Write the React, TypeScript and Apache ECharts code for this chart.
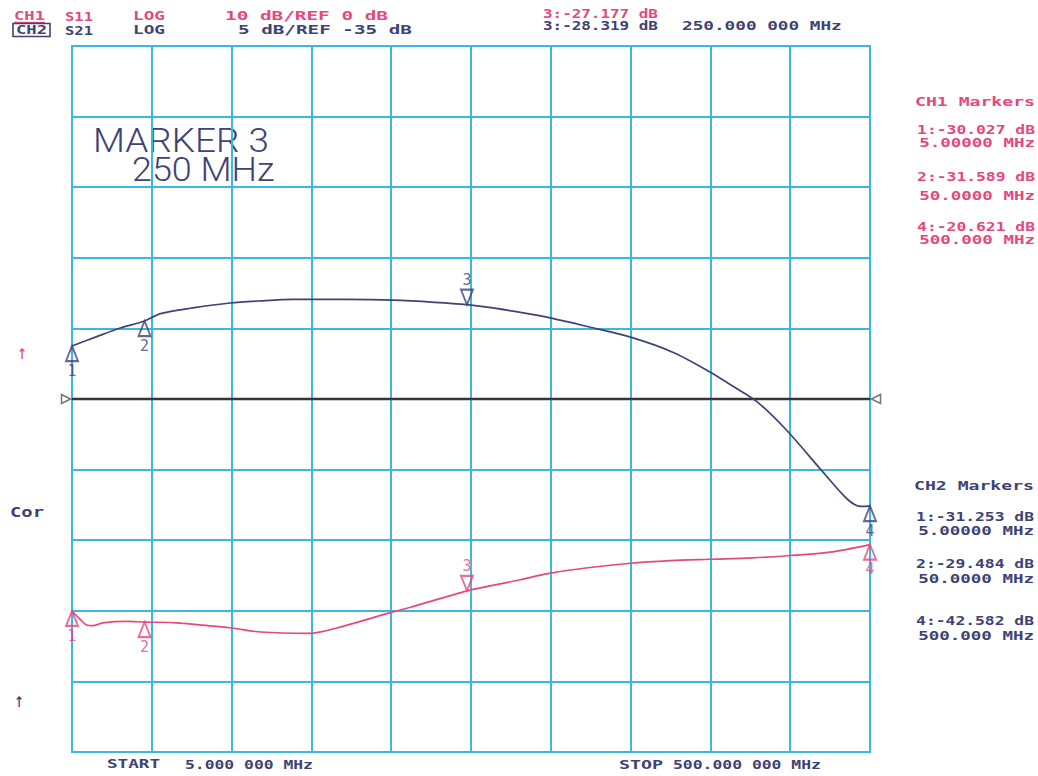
import React, { useEffect, useRef } from 'react';
import * as echarts from 'echarts';

// ---------- data ----------
const freqCH1 = [5, 10, 14, 18, 24, 39, 50, 70, 84, 103, 122, 152, 173, 202, 215, 250, 266, 283, 301, 325, 350, 376, 400, 427, 449, 475, 500];
const s11dB = [-30.03, -31.2, -32.0, -32.1, -31.7, -31.5, -31.59, -31.7, -32.0, -32.4, -33.0, -33.2, -32.2, -30.3, -29.5, -27.18, -26.4, -25.6, -24.7, -23.9, -23.3, -22.9, -22.7, -22.5, -22.2, -21.7, -20.62];

const freqCH2 = [5, 20, 35, 50, 60, 80, 103, 122, 142, 175, 204, 230, 250, 266, 295, 326, 351, 378, 401, 415, 430, 449, 471, 486, 494, 500];
const s21dB = [-31.25, -30.6, -29.97, -29.48, -28.95, -28.55, -28.2, -28.05, -27.95, -27.95, -28.0, -28.15, -28.32, -28.55, -29.1, -29.9, -30.6, -31.7, -33.1, -34.1, -35.2, -37.3, -40.2, -42.1, -42.6, -42.58];

const markerFreqs = [5, 50, 250, 500];
const markerIds = ['1', '2', '3', '4'];
const ch1Markers = [-30.027, -31.589, -27.177, -20.621];
const ch2Markers = [-31.253, -29.484, -28.319, -42.582];
const activeMarker = '3';

const refFreqs = [5, 500];
const ch1Ref = 0; // dB
const ch1Scale = 10; // dB/div
const ch2Ref = -35;
const ch2Scale = 5;

const headerRow1 = ['CH1', 'S11', 'LOG', '10 dB/REF 0 dB', '3:-27.177 dB'];
const headerRow2 = ['CH2', 'S21', 'LOG', '5 dB/REF -35 dB', '3:-28.319 dB', '250.000 000 MHz'];
const ch1MarkerLines = ['CH1 Markers', '1:-30.027 dB', '5.00000 MHz', '2:-31.589 dB', '50.0000 MHz', '4:-20.621 dB', '500.000 MHz'];
const ch2MarkerLines = ['CH2 Markers', '1:-31.253 dB', '5.00000 MHz', '2:-29.484 dB', '50.0000 MHz', '4:-42.582 dB', '500.000 MHz'];
const footer = ['START', '5.000 000 MHz', 'STOP', '500.000 000 MHz'];
const bigLabel = ['MARKER 3', '250 MHz'];

// ---------- styles ----------
const PINK = '#e4487c';
const NAVY = '#3e4274';
const GRIDC = '#3ab7e3';
const MONO = '"DejaVu Sans Mono", monospace';

function txt(text: string, x: number, y: number, w: number, color: string, fs = 13, align = 'left', family = MONO, weight: any = 'bold', cw = 0.602) {
  const scaleX = w / (text.length * cw * fs);
  return {
    type: 'text',
    x,
    y,
    scaleX,
    silent: true,
    style: {
      text,
      fill: color,
      fontSize: fs,
      fontFamily: family,
      fontWeight: weight,
      align,
      textAlign: align,
      verticalAlign: 'middle',
      textVerticalAlign: 'middle',
    },
  };
}

function markerData(values: number[]) {
  return markerFreqs.map((f, i) => {
    const active = markerIds[i] === activeMarker;
    return {
      value: [f, values[i]],
      name: markerIds[i],
      symbolRotate: active ? 180 : 0,
      symbolOffset: active ? [0, -7.5] : [0, 7.5],
      label: { position: active ? 'top' : 'bottom', distance: 1 },
    };
  });
}

export default function App() {
  const ref = useRef<HTMLDivElement>(null);
  useEffect(() => {
    if (!ref.current) return;
    const chart = echarts.init(ref.current, null, { renderer: 'svg' });

    const graphic: any[] = [];
    // header row 1 (CH1, pink)
    const r1x = [14, 65, 133, 225, 543];
    const r1w = [31, 28, 32, 163, 115];
    const r1y = [16, 16, 16, 16, 14];
    headerRow1.forEach((t, i) => graphic.push(txt(t, r1x[i], r1y[i], r1w[i], PINK, 13)));
    graphic.push({ type: 'line', silent: true, shape: { x1: 14, y1: 22.5, x2: 45, y2: 22.5 }, style: { stroke: PINK, lineWidth: 1.4 } });
    // header row 2 (CH2, navy)
    const r2x = [16, 65, 133, 238, 543, 682];
    const r2w = [31, 28, 32, 174, 115, 160];
    const r2y = [30, 30, 30, 30, 26, 26];
    headerRow2.forEach((t, i) => graphic.push(txt(t, r2x[i], r2y[i], r2w[i], NAVY, 13)));
    graphic.push({ type: 'rect', silent: true, shape: { x: 13, y: 23.5, width: 37, height: 13 }, style: { fill: 'none', stroke: NAVY, lineWidth: 1.6 } });

    // right-side marker tables
    const ch1y = [101, 129, 143, 176, 196, 226, 240];
    const ch1w = [120, 118, 116, 118, 116, 118, 116];
    ch1MarkerLines.forEach((t, i) => graphic.push(txt(t, 1035, ch1y[i], ch1w[i], PINK, 13, 'right')));
    const ch2y = [485, 516, 531, 563, 579, 620, 636];
    const ch2w = [120, 118, 116, 118, 116, 118, 116];
    ch2MarkerLines.forEach((t, i) => graphic.push(txt(t, 1034, ch2y[i], ch2w[i], NAVY, 13, 'right')));

    // footer
    const fx = [107, 185, 619, 673];
    const fw = [53, 128, 44, 148];
    footer.forEach((t, i) => graphic.push(txt(t, fx[i], 764, fw[i], NAVY, 13)));

    // big marker annotation (thin plotter-style lettering)
    graphic.push(txt(bigLabel[0], 93, 140, 177, NAVY, 34, 'left', 'Roboto', 300, 0.6));
    graphic.push(txt(bigLabel[1], 132, 170, 151, NAVY, 34, 'left', 'Roboto', 300, 0.6));

    // left side annotations
    graphic.push(txt('\u2191', 17, 352, 10, PINK, 20, 'left', MONO, 'normal'));
    graphic.push(txt('\u2191', 14, 700, 10, NAVY, 20, 'left', MONO, 'normal'));
    graphic.push(txt('Cor', 10, 512, 34, NAVY, 14));

    const option: any = {
      animation: false,
      backgroundColor: '#ffffff',
      grid: { left: 72, top: 46, width: 798, height: 706, show: true, borderColor: GRIDC, borderWidth: 2, containLabel: false },
      xAxis: [
        { type: 'value', min: 5, max: 500, show: false },
        {
          type: 'value', min: 0, max: 10, interval: 1, position: 'bottom',
          axisLine: { show: false }, axisTick: { show: false }, axisLabel: { show: false },
          splitLine: { show: true, lineStyle: { color: GRIDC, width: 2 } },
        },
      ],
      yAxis: [
        {
          type: 'value', min: ch1Ref - 5 * ch1Scale, max: ch1Ref + 5 * ch1Scale, interval: ch1Scale,
          axisLine: { show: false }, axisTick: { show: false }, axisLabel: { show: false },
          splitLine: { show: true, lineStyle: { color: GRIDC, width: 2 } },
        },
        { type: 'value', min: ch2Ref - 5 * ch2Scale, max: ch2Ref + 5 * ch2Scale, interval: ch2Scale, show: false },
      ],
      series: [
        {
          type: 'line', name: 'REF', xAxisIndex: 0, yAxisIndex: 0, symbol: 'none',
          data: refFreqs.map((f) => [f, ch1Ref]),
          lineStyle: { color: '#3a3438', width: 2.5 }, z: 3,
        },
        {
          type: 'scatter', name: 'REF ends', xAxisIndex: 0, yAxisIndex: 0, clip: false,
          symbol: 'triangle', symbolSize: [9, 9],
          itemStyle: { color: '#ffffff', borderColor: '#555055', borderWidth: 1.5 },
          data: [
            { value: [refFreqs[0], ch1Ref], symbolRotate: -90, symbolOffset: [-6, 0] },
            { value: [refFreqs[1], ch1Ref], symbolRotate: 90, symbolOffset: [6, 0] },
          ], z: 4,
        },
        {
          type: 'line', name: 'CH1 S11', xAxisIndex: 0, yAxisIndex: 0, symbol: 'none', smooth: 0.3,
          data: freqCH1.map((f, i) => [f, s11dB[i]]),
          lineStyle: { color: PINK, width: 1.7 }, z: 5,
        },
        {
          type: 'line', name: 'CH2 S21', xAxisIndex: 0, yAxisIndex: 1, symbol: 'none', smooth: 0.3,
          data: freqCH2.map((f, i) => [f, s21dB[i]]),
          lineStyle: { color: NAVY, width: 1.7 }, z: 5,
        },
        {
          type: 'scatter', name: 'CH1 markers', xAxisIndex: 0, yAxisIndex: 0, clip: false,
          symbol: 'triangle', symbolSize: [12, 15],
          itemStyle: { color: 'rgba(255,255,255,0)', borderColor: PINK, borderWidth: 2 },
          label: { show: true, formatter: '{b}', color: PINK, fontSize: 15, fontFamily: MONO },
          data: markerData(ch1Markers), z: 6,
        },
        {
          type: 'scatter', name: 'CH2 markers', xAxisIndex: 0, yAxisIndex: 1, clip: false,
          symbol: 'triangle', symbolSize: [12, 15],
          itemStyle: { color: 'rgba(255,255,255,0)', borderColor: NAVY, borderWidth: 2 },
          label: { show: true, formatter: '{b}', color: NAVY, fontSize: 15, fontFamily: MONO },
          data: markerData(ch2Markers), z: 6,
        },
      ],
      graphic,
    };
    chart.setOption(option);
    return () => chart.dispose();
  }, []);

  return (
    <div
      ref={ref}
      style={{ position: 'fixed', left: 0, top: 0, width: 1038, height: 776, background: '#fff' }}
    />
  );
}
